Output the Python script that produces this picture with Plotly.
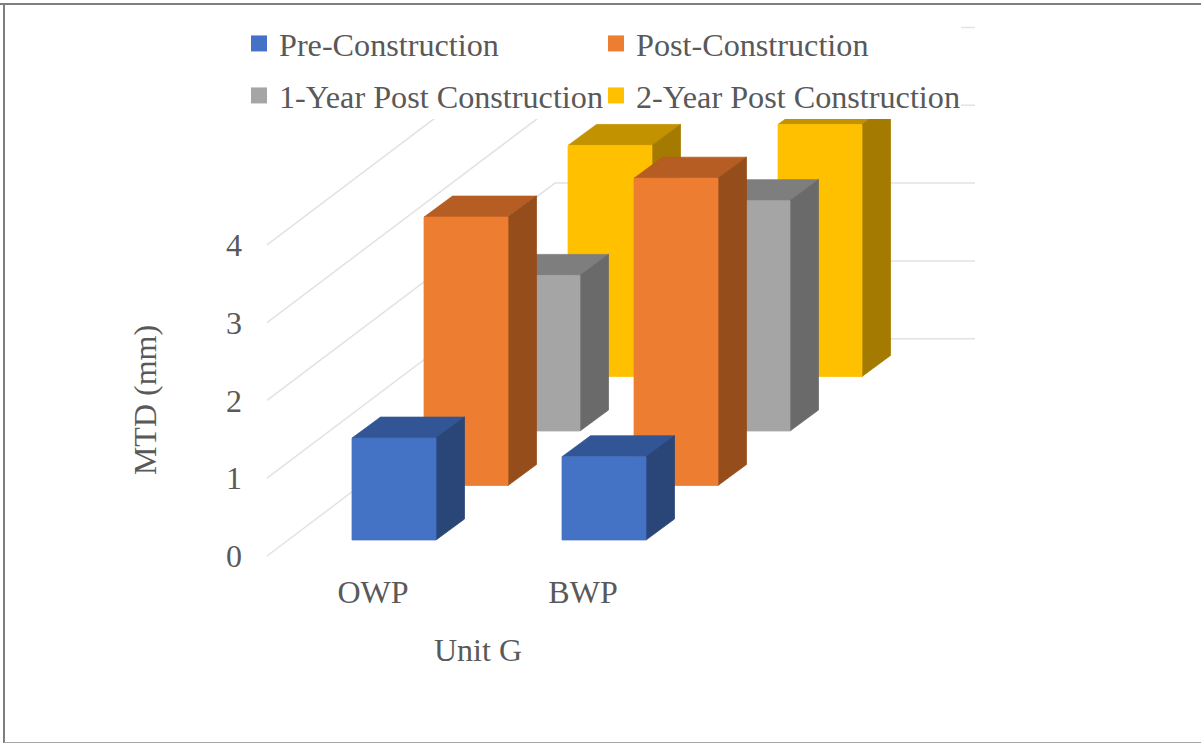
import plotly.graph_objects as go

categories = ["OWP", "BWP"]
series_names = ["Pre-Construction", "Post-Construction", "1-Year Post Construction", "2-Year Post Construction"]
pre_construction = [1.31, 1.07]
post_construction = [3.45, 3.95]
one_year_post = [2.00, 2.96]
two_year_post = [2.97, 3.24]
series_values = [pre_construction, post_construction, one_year_post, two_year_post]
y_ticks = [0, 1, 2, 3, 4]

front_colors = ["#4472C4", "#ED7D31", "#A5A5A5", "#FFC000"]
top_colors = ["#325596", "#B55D22", "#7E7E7E", "#C39200"]
side_colors = ["#2A4678", "#954E1B", "#6A6A6A", "#A47B00"]
TEXT = "#595959"
FONT = "Liberation Serif"
FS = 32

W, H = 1201, 743
L, R, T, B = 243, 713, 230, 570
PX_X, PX_Y = 210.0, 77.8     # pixels per category / per mm
X0_PX, Y0_PX = 373.0, 556.0  # pixel of category 0 / value 0
x_range = [(L - X0_PX) / PX_X, (R - X0_PX) / PX_X]
y_range = [(Y0_PX - B) / PX_Y, (Y0_PX - T) / PX_Y]
x2_range = [(0 - X0_PX) / PX_X, (W - X0_PX) / PX_X]
y2_range = [(Y0_PX - H) / PX_Y, Y0_PX / PX_Y]

# Oblique projection parameters, in axis units
bar_left, bar_w = -21 / PX_X, 84 / PX_X
base_y = 16 / PX_Y
row_dx, row_dy = 72 / PX_X, 54.5 / PX_Y
side_dx, side_dy = 28.5 / PX_X, 21 / PX_Y
wall_x0 = (267 - X0_PX) / PX_X
wall_dx, wall_dy = 288 / PX_X, 217.3 / PX_Y
wall_x1 = (975 - X0_PX) / PX_X

fig = go.Figure()

# Gridlines on left wall and back wall
gx, gy = [], []
for t in y_ticks:
    gx += [wall_x0, wall_x0 + wall_dx, wall_x1, None]
    gy += [t, t + wall_dy, t + wall_dy, None]
fig.add_trace(go.Scatter(x=gx, y=gy, mode="lines", line=dict(color="#E2E2E2", width=1.5),
                         showlegend=False, hoverinfo="skip", xaxis="x2", yaxis="y2"))

def poly(xs, ys, color):
    return go.Scatter(x=xs, y=ys, mode="lines", fill="toself", fillcolor=color,
                      line=dict(color=color, width=0.75), showlegend=False,
                      hoverinfo="skip", xaxis="x2", yaxis="y2")

# Back row first, so nearer rows cover it
for s in reversed(range(len(series_values))):
    tx, ty, sx, sy, fx, fy = [], [], [], [], [], []
    for c, v in enumerate(series_values[s]):
        x0 = c + bar_left + s * row_dx
        x1 = x0 + bar_w
        y0 = base_y + s * row_dy
        y1 = y0 + v
        tx += [x0, x1, x1 + side_dx, x0 + side_dx, x0, None]
        ty += [y1, y1, y1 + side_dy, y1 + side_dy, y1, None]
        sx += [x1, x1 + side_dx, x1 + side_dx, x1, x1, None]
        sy += [y0, y0 + side_dy, y1 + side_dy, y1, y0, None]
        fx += [x0, x1, x1, x0, x0, None]
        fy += [y0, y0, y1, y1, y0, None]
    fig.add_trace(poly(tx, ty, top_colors[s]))
    fig.add_trace(poly(sx, sy, side_colors[s]))
    fig.add_trace(poly(fx, fy, front_colors[s]))

# Legend entries (these also keep the labelled axes on the page)
legend_ids = ["legend", "legend2", "legend3", "legend4"]
for s, name in enumerate(series_names):
    fig.add_trace(go.Scatter(x=[None], y=[None], mode="markers", name=name,
                             marker=dict(symbol="square", size=16, color=front_colors[s]),
                             legend=legend_ids[s], showlegend=True))

legend_px = [(239, 43.5), (596, 43.5), (239, 95.5), (596, 95.5)]
legend_layout = {}
for lid, (px, py) in zip(legend_ids, legend_px):
    legend_layout[lid] = dict(xref="paper", yref="paper", x=px / W, y=1 - py / H,
                              xanchor="left", yanchor="middle", bgcolor="rgba(0,0,0,0)",
                              font=dict(family=FONT, size=32.2, color=TEXT))

hidden = dict(visible=False, showgrid=False, zeroline=False, domain=[0, 1], fixedrange=True)

fig.update_layout(
    width=W, height=H, margin=dict(l=0, r=0, t=0, b=0, autoexpand=False),
    paper_bgcolor="white", plot_bgcolor="rgba(0,0,0,0)", showlegend=True,
    font=dict(family=FONT, size=FS, color=TEXT),
    xaxis=dict(domain=[L / W, R / W], range=x_range, tickvals=[0, 1], ticktext=categories,
               showgrid=False, zeroline=False, showline=False, ticks="", automargin=False,
               title=dict(text="Unit G", standoff=29, font=dict(family=FONT, size=FS, color=TEXT))),
    yaxis=dict(domain=[1 - B / H, 1 - T / H], range=y_range, tickvals=y_ticks,
               showgrid=False, zeroline=False, showline=False, ticks="", automargin=False,
               title=dict(text="MTD (mm)", standoff=59, font=dict(family=FONT, size=FS, color=TEXT))),
    xaxis2=dict(range=x2_range, anchor="y2", **hidden),
    yaxis2=dict(range=y2_range, anchor="x2", **hidden),
    shapes=[
        dict(type="rect", xref="paper", yref="paper", layer="above", line_width=0, fillcolor="white",
             x0=245 / W, x1=961 / W, y0=1 - 119 / H, y1=1 - 15 / H),
        dict(type="line", xref="paper", yref="paper", layer="above", line=dict(color="#7F7F7F", width=2),
             x0=0, x1=1, y0=1 - 4 / H, y1=1 - 4 / H),
        dict(type="line", xref="paper", yref="paper", layer="above", line=dict(color="#7F7F7F", width=2),
             x0=4 / W, x1=4 / W, y0=1 - 4 / H, y1=0),
        dict(type="line", xref="paper", yref="paper", layer="above", line=dict(color="#A6A6A6", width=1),
             x0=4 / W, x1=1, y0=0.5 / H, y1=0.5 / H),
    ],
    **legend_layout,
)

fig.write_html("out.html", config={"displayModeBar": False},
               post_script="document.body.style.margin='0';document.body.style.overflow='hidden';")
